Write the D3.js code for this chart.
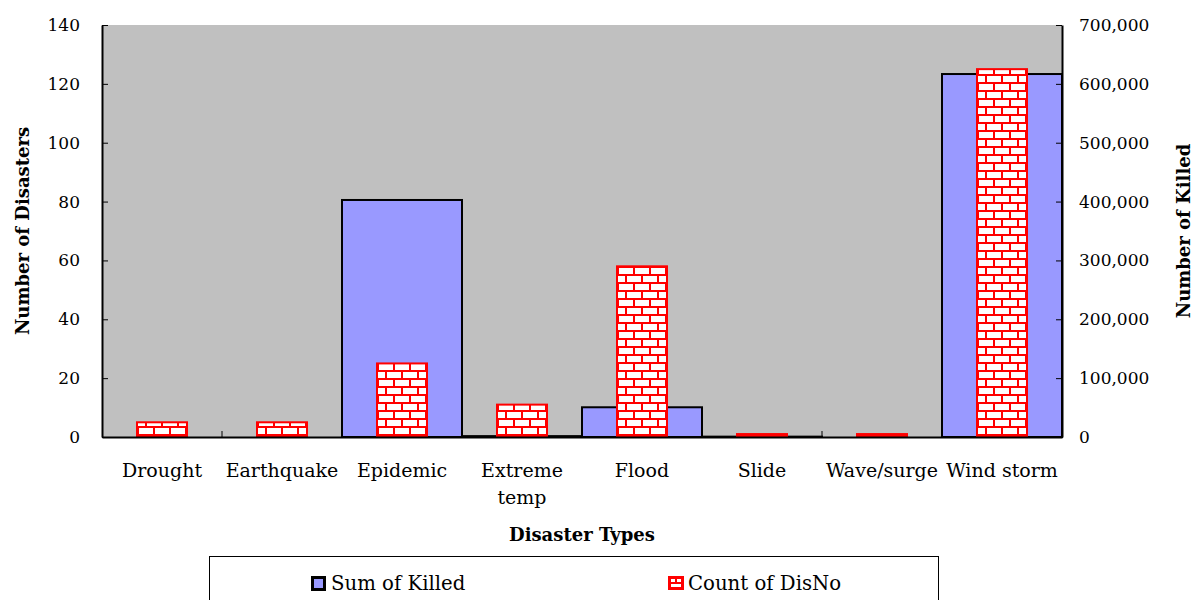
<!DOCTYPE html>
<html>
<head>
<script src="https://d3js.org/d3.v7.min.js"></script>
<style>
  body { margin: 0; background: #fff; }
  svg text { font-family: "DejaVu Serif", serif; }
</style>
</head>
<body>
<svg id="chart" width="1194" height="600"></svg>
<script>
// data
const categories = ["Drought", "Earthquake", "Epidemic", "Extreme temp", "Flood", "Slide", "Wave/surge", "Wind storm"];
const killed = [0, 0, 402700, 1500, 50500, 600, 0, 616700];
const counts = [5, 5, 25, 11, 58, 1, 1, 125];
const leftTicks = [0, 20, 40, 60, 80, 100, 120, 140];
const rightTicks = [0, 100000, 200000, 300000, 400000, 500000, 600000, 700000];

const margin = {top: 25, left: 102, right: 132, bottom: 163};
const width = 1194 - margin.left - margin.right,
    height = 600 - margin.top - margin.bottom;

const svg = d3.select("#chart");

// brick pattern for the count bars
const defs = svg.append("defs");
const brick = defs.append("pattern")
    .attr("id", "brick")
    .attr("patternUnits", "userSpaceOnUse")
    .attr("width", 16).attr("height", 16)
    .attr("x", 0).attr("y", 1);
brick.append("rect").attr("width", 16).attr("height", 16).attr("fill", "#fff");
brick.append("path")
    .attr("d", "M0,1H16M0,9H16M4,0V8M12,8V16")
    .attr("stroke", "#ff0000").attr("stroke-width", 2);

const g = svg.append("g").attr("transform", "translate(" + margin.left + "," + margin.top + ")");

const x = d3.scaleBand().domain(categories).range([0, width]);
const yLeft = d3.scaleLinear().domain([0, 140]).range([height, 0]);
const yRight = d3.scaleLinear().domain([0, 700000]).range([height, 0]);

g.append("rect")
    .attr("width", width).attr("height", height)
    .attr("fill", "#c0c0c0");

// Sum of Killed bars (right axis)
g.selectAll(".killed")
  .data(categories)
  .enter().append("rect")
    .attr("class", "killed")
    .attr("x", function(d) { return x(d); })
    .attr("width", x.bandwidth())
    .attr("y", function(d, i) { return yRight(killed[i]); })
    .attr("height", function(d, i) { return height - yRight(killed[i]); })
    .attr("fill", "#9999ff")
    .attr("stroke", "#000")
    .attr("stroke-width", function(d, i) { return killed[i] > 0 ? 2 : 0; });

// Count of DisNo bars (left axis)
const redW = 50;
g.selectAll(".count")
  .data(categories)
  .enter().append("rect")
    .attr("class", "count")
    .attr("x", function(d) { return x(d) + (x.bandwidth() - redW) / 2; })
    .attr("width", redW)
    .attr("y", function(d, i) { return yLeft(counts[i]); })
    .attr("height", function(d, i) { return height - yLeft(counts[i]); })
    .attr("fill", "url(#brick)")
    .attr("stroke", "#ff0000")
    .attr("stroke-width", 2);

// axes
const leftAxis = g.append("g")
    .call(d3.axisLeft(yLeft).tickValues(leftTicks).tickSizeInner(-6).tickSizeOuter(0).tickPadding(22));
const rightAxis = g.append("g")
    .attr("transform", "translate(" + width + ",0)")
    .call(d3.axisRight(yRight).tickValues(rightTicks).tickSizeInner(-6).tickSizeOuter(0).tickPadding(17)
        .tickFormat(d3.format(",")));
const bottomAxis = g.append("g")
    .attr("transform", "translate(0," + height + ")")
    .call(d3.axisBottom(x).tickSize(0).tickPadding(0));

[leftAxis, rightAxis].forEach(function(a) {
  a.select(".domain").attr("stroke", "#000").attr("stroke-width", 2);
  a.selectAll(".tick line").attr("stroke", "#000");
  a.selectAll("text").attr("font-size", 17).attr("fill", "#000")
    .attr("font-family", "DejaVu Serif");
});
bottomAxis.select(".domain").attr("stroke", "#000").attr("stroke-width", 2);
bottomAxis.selectAll("text").remove();

// category boundary ticks
g.selectAll(".sep")
  .data(categories.slice(1))
  .enter().append("line")
    .attr("x1", function(d) { return x(d); })
    .attr("x2", function(d) { return x(d); })
    .attr("y1", height - 6).attr("y2", height)
    .attr("stroke", "#000");

// category labels
const labels = g.selectAll(".cat")
  .data(categories)
  .enter().append("text")
    .attr("class", "cat")
    .attr("text-anchor", "middle")
    .attr("font-size", 19)
    .attr("y", height + 40);
labels.each(function(d) {
  const t = d3.select(this);
  const cx = x(d) + x.bandwidth() / 2;
  const parts = d === "Extreme temp" ? ["Extreme", "temp"] : [d];
  parts.forEach(function(p, j) {
    t.append("tspan").attr("x", cx).attr("dy", j === 0 ? 0 : 27).text(p);
  });
});

// axis titles
svg.append("text")
    .attr("transform", "translate(29," + (margin.top + height / 2) + ") rotate(-90)")
    .attr("text-anchor", "middle")
    .attr("font-size", 18).attr("font-weight", "bold")
    .text("Number of Disasters");
svg.append("text")
    .attr("transform", "translate(1190," + (margin.top + height / 2) + ") rotate(-90)")
    .attr("text-anchor", "middle")
    .attr("font-size", 18).attr("font-weight", "bold")
    .text("Number of Killed");
svg.append("text")
    .attr("x", margin.left + width / 2).attr("y", 541)
    .attr("text-anchor", "middle")
    .attr("font-size", 18).attr("font-weight", "bold")
    .text("Disaster Types");

// legend
const legend = svg.append("g");
legend.append("rect")
    .attr("x", 209.5).attr("y", 556.5).attr("width", 729).attr("height", 60)
    .attr("fill", "#fff").attr("stroke", "#000");
const legendItems = [
  {label: "Sum of Killed", x: 311},
  {label: "Count of DisNo", x: 668}
];
legendItems.forEach(function(it, i) {
  if (i === 0) {
    legend.append("rect").attr("x", it.x + 1.5).attr("y", 577.5).attr("width", 12).attr("height", 12)
      .attr("fill", "#9999ff").attr("stroke", "#000").attr("stroke-width", 3);
  } else {
    legend.append("rect").attr("x", it.x + 1.5).attr("y", 577.5).attr("width", 13).attr("height", 11)
      .attr("fill", "#fff").attr("stroke", "#ff0000").attr("stroke-width", 3);
    legend.append("path")
      .attr("d", "M" + (it.x + 1) + ",583H" + (it.x + 15) + "M" + (it.x + 8) + ",577V583")
      .attr("stroke", "#ff0000").attr("stroke-width", 2);
  }
  legend.append("text")
    .attr("x", it.x + 20).attr("y", 590)
    .attr("font-family", "Liberation Serif")
    .attr("font-size", 19.7)
    .text(it.label);
});
</script>
</body>
</html>
